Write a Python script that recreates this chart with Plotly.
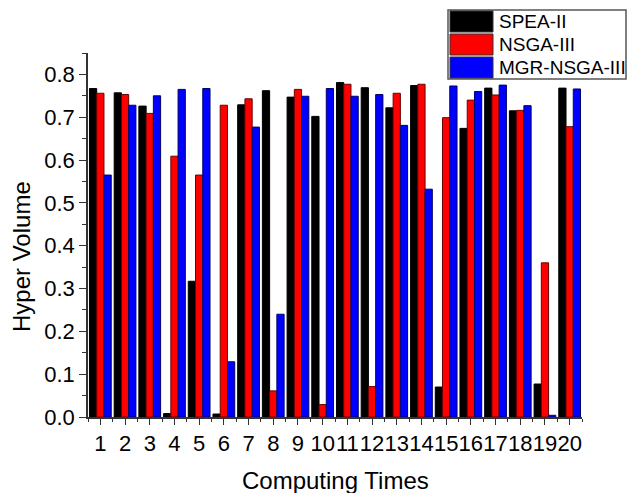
import plotly.graph_objects as go

runs = list(range(1, 21))
series_names = ["SPEA-II", "NSGA-III", "MGR-NSGA-III"]
spea2 = [0.767, 0.757, 0.726, 0.008, 0.317, 0.007, 0.729, 0.762, 0.747, 0.702,
         0.781, 0.769, 0.722, 0.774, 0.070, 0.674, 0.768, 0.715, 0.077, 0.768]
nsga3 = [0.756, 0.753, 0.709, 0.609, 0.565, 0.728, 0.743, 0.061, 0.765, 0.029,
         0.777, 0.071, 0.756, 0.777, 0.699, 0.740, 0.752, 0.716, 0.360, 0.678]
mgr_nsga3 = [0.565, 0.728, 0.750, 0.765, 0.767, 0.129, 0.677, 0.240, 0.749, 0.767,
             0.749, 0.753, 0.681, 0.532, 0.773, 0.760, 0.775, 0.727, 0.004, 0.766]
y_ticks = [0.0, 0.1, 0.2, 0.3, 0.4, 0.5, 0.6, 0.7, 0.8]

fills = ["#000000", "#ff0000", "#0000ff"]
edges = ["#000000", "#6a0000", "#00006a"]
FONT = "Arial, Liberation Sans, sans-serif"

fig = go.Figure()
for name, vals, fc, ec in zip(series_names, [spea2, nsga3, mgr_nsga3], fills, edges):
    fig.add_trace(go.Bar(x=runs, y=vals, name=name,
                         marker=dict(color=fc, line=dict(color=ec, width=1)),
                         showlegend=False))

L, R, T, B = 88, 45, 53, 76
W, H = 627, 493
pw, ph = W - L - R, H - T - B

def px_x(x):
    return (x - L) / pw

def px_y(y):
    return (H - B - y) / ph

fig.update_layout(
    width=W, height=H,
    margin=dict(l=L, r=R, t=T, b=B, pad=0),
    paper_bgcolor="white", plot_bgcolor="white",
    barmode="group", bargap=0.12, bargroupgap=0,
    font=dict(family=FONT, size=22, color="black"),
    xaxis=dict(range=[0.5, 20.5], tickmode="array", tickvals=runs,
               ticktext=[str(r) for r in runs], tickangle=0,
               showline=True, linecolor="#333333", linewidth=1.5,
               ticks="outside", ticklen=6, tickwidth=1.2, tickcolor="#333333",
               minor=dict(ticks="outside", ticklen=3, tick0=0.5, dtick=1,
                          tickcolor="#333333", tickwidth=1.2),
               showgrid=False, zeroline=False,
               tickfont=dict(size=22)),
    yaxis=dict(range=[0, 0.85], tickmode="array", tickvals=y_ticks,
               tickformat=".1f",
               showline=True, linecolor="#333333", linewidth=1.5,
               ticks="outside", ticklen=7, tickwidth=1.2, tickcolor="#333333",
               minor=dict(ticks="outside", ticklen=4, dtick=0.05,
                          tickcolor="#333333", tickwidth=1.2),
               showgrid=False, zeroline=False,
               tickfont=dict(size=22)),
)

# axis titles
fig.add_annotation(text="Computing Times", xref="paper", yref="paper",
                   x=0.5, y=px_y(480), xanchor="center", yanchor="middle",
                   showarrow=False, font=dict(size=24))
fig.add_annotation(text="Hyper Volume", xref="paper", yref="paper",
                   x=px_x(21), y=px_y(257), xanchor="center", yanchor="middle",
                   textangle=-90, showarrow=False, font=dict(size=24))

# custom legend
lx0, lx1, ly0, ly1 = 448, 626, 10, 79
fig.add_shape(type="rect", xref="paper", yref="paper",
              x0=px_x(lx0), x1=px_x(lx1), y0=px_y(ly1), y1=px_y(ly0),
              line=dict(color="#555555", width=1.5), fillcolor="white", layer="above")
rows = [(11, 32), (34, 55), (57, 78)]
for (r0, r1), name, fc, ec in zip(rows, series_names, fills, edges):
    fig.add_shape(type="rect", xref="paper", yref="paper",
                  x0=px_x(450), x1=px_x(493), y0=px_y(r1), y1=px_y(r0),
                  line=dict(color="#333333", width=1), fillcolor=fc, layer="above")
    fig.add_annotation(text=name, xref="paper", yref="paper",
                       x=px_x(497), y=px_y((r0 + r1) / 2), xanchor="left", yanchor="middle",
                       showarrow=False, font=dict(size=19))

fig.write_html("out.html")
